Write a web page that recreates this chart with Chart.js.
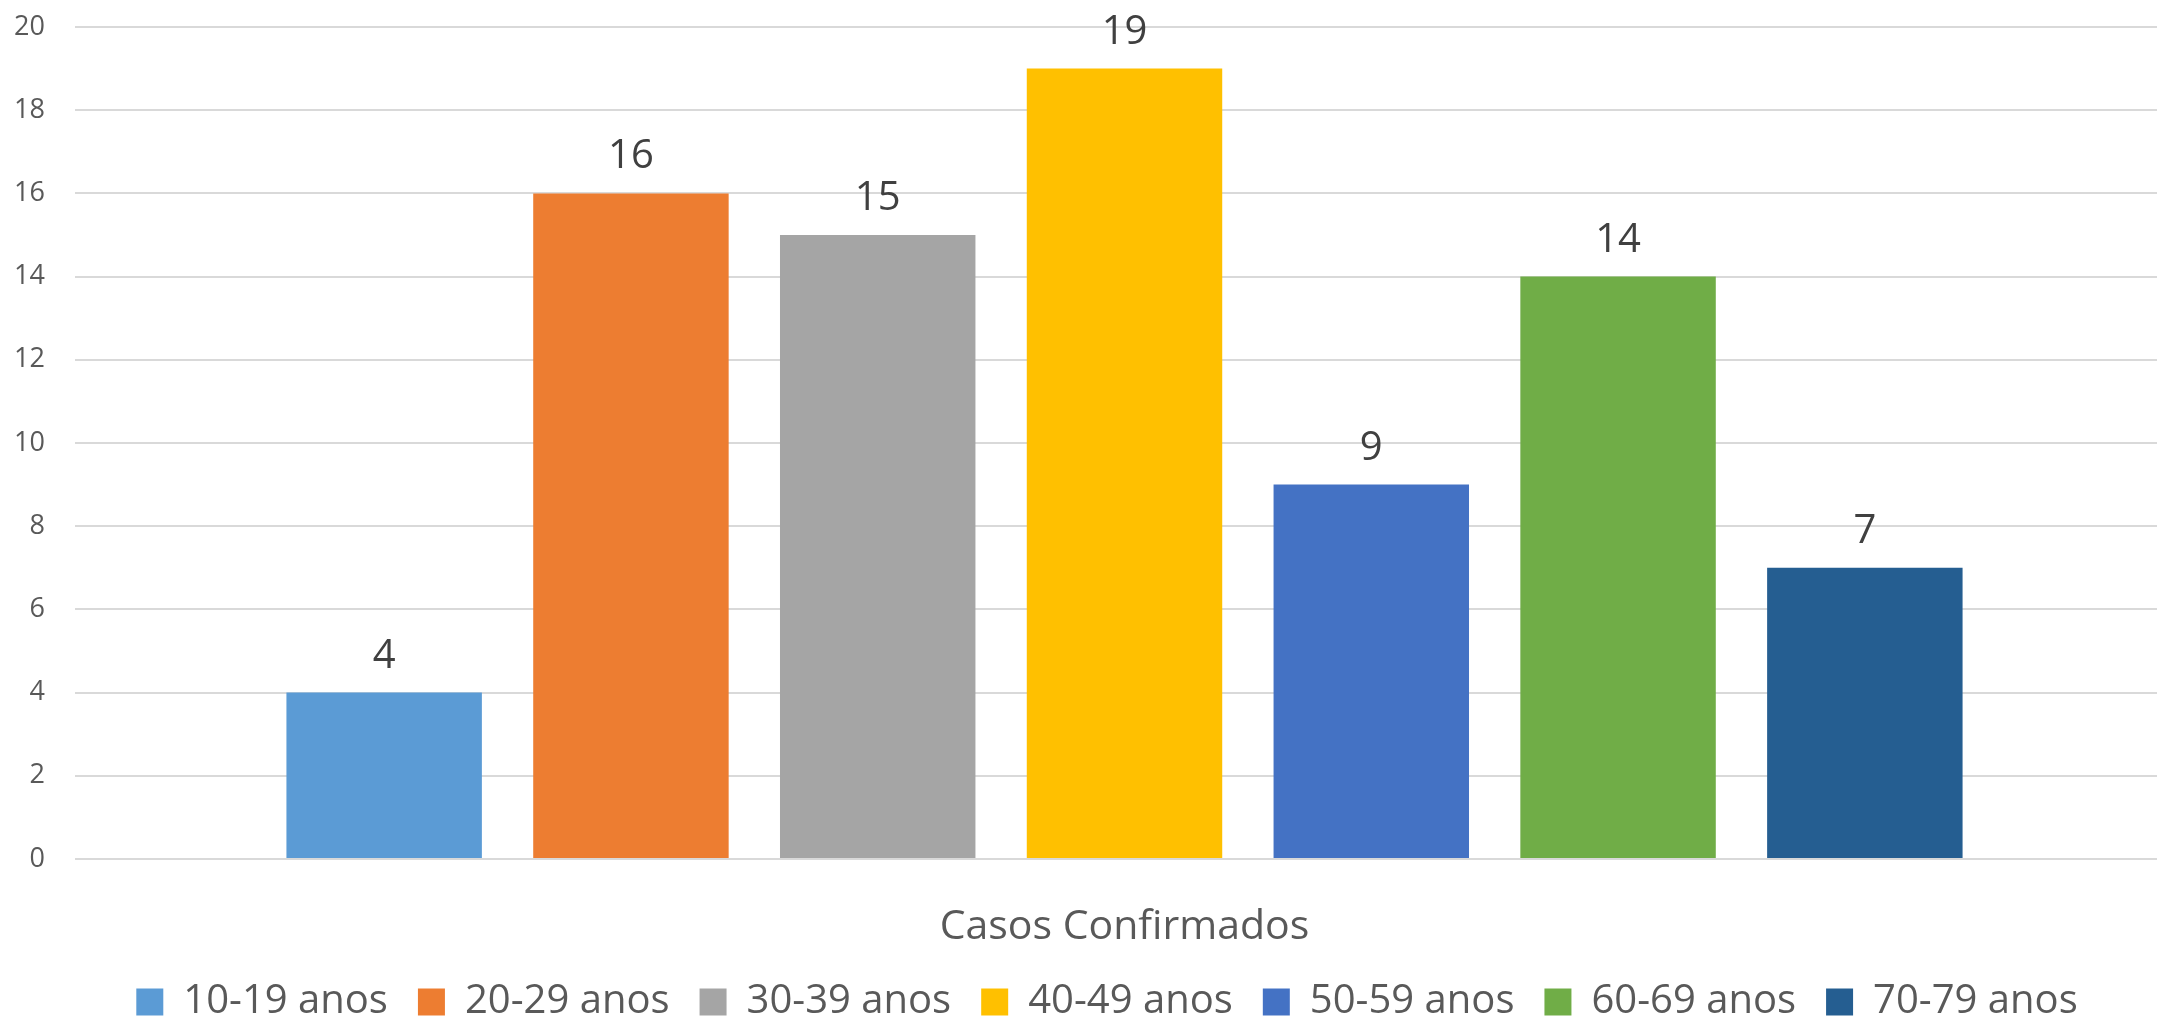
<!DOCTYPE html>
<html>
<head>
<meta charset="utf-8">
<title>Casos Confirmados por faixa etária</title>
<script src="https://cdn.jsdelivr.net/npm/chart.js@4"></script>
<style>
    html, body { margin: 0; padding: 0; background: #fff; overflow: hidden; }
    #casosChart { display: block; }
</style>
</head>
<body>
<canvas id="casosChart" width="2214" height="1032"></canvas>
<script>
const categories = ['Casos Confirmados'];
const faixas = ['10-19 anos', '20-29 anos', '30-39 anos', '40-49 anos', '50-59 anos', '60-69 anos', '70-79 anos'];
const casos = [4, 16, 15, 19, 9, 14, 7];
const cores = ['#5B9BD5', '#ED7D31', '#A5A5A5', '#FFC000', '#4472C4', '#70AD47', '#255E91'];
const yTicks = [0, 2, 4, 6, 8, 10, 12, 14, 16, 18, 20];

const FONT = '"Open Sans", "Noto Sans", sans-serif';

// draws the value above each bar (no datalabels plugin offline)
const valueLabels = {
    id: 'valueLabels',
    afterDatasetsDraw(chart) {
        const ctx = chart.ctx;
        ctx.save();
        ctx.font = '40px ' + FONT;
        ctx.fillStyle = '#404040';
        ctx.textAlign = 'center';
        ctx.textBaseline = 'alphabetic';
        chart.data.datasets.forEach((ds, i) => {
            chart.getDatasetMeta(i).data.forEach((bar, j) => {
                ctx.fillText(String(ds.data[j]), bar.x, bar.y - 25);
            });
        });
        ctx.restore();
    }
};

document.addEventListener('DOMContentLoaded', function() {
    const ctx = document.getElementById('casosChart');

    const datasets = faixas.map((faixa, i) => ({
        label: faixa,
        data: [casos[i]],
        backgroundColor: cores[i],
        borderWidth: 0
    }));

    new Chart(ctx, {
        type: 'bar',
        data: {
            labels: categories,
            datasets: datasets
        },
        options: {
            responsive: false,
            animation: false,
            categoryPercentage: 0.823,
            barPercentage: 0.792,
            layout: {
                padding: { left: 0, top: 27, right: 0, bottom: 0 }
            },
            plugins: {
                tooltip: { enabled: false },
                legend: {
                    position: 'bottom',
                    labels: {
                        boxWidth: 27,
                        boxHeight: 27,
                        padding: 30,
                        color: '#595959',
                        font: { family: FONT, size: 40 }
                    }
                }
            },
            scales: {
                x: {
                    grid: { display: false },
                    border: { display: false },
                    ticks: {
                        color: '#595959',
                        padding: 36,
                        font: { family: FONT, size: 41 }
                    },
                    afterFit(axis) { axis.height = 93; }
                },
                y: {
                    min: 0,
                    max: 20,
                    afterBuildTicks(axis) {
                        axis.ticks = yTicks.map(v => ({ value: v }));
                    },
                    // invisible tick marks give the gap between labels and grid
                    grid: { color: '#D9D9D9', lineWidth: 2, drawTicks: true, tickLength: 30, tickColor: 'rgba(0,0,0,0)' },
                    border: { display: false },
                    ticks: {
                        color: '#595959',
                        padding: 0,
                        font: { family: FONT, size: 27 }
                    },
                    afterFit(axis) { axis.width = 75; }
                },
                // empty strip on the right so the legend sits where the original one does
                spacer: {
                    type: 'linear',
                    position: 'right',
                    grid: { display: false },
                    border: { display: false },
                    ticks: { display: false },
                    afterFit(axis) { axis.width = 40; }
                }
            }
        },
        plugins: [valueLabels]
    });
});
</script>
</body>
</html>
